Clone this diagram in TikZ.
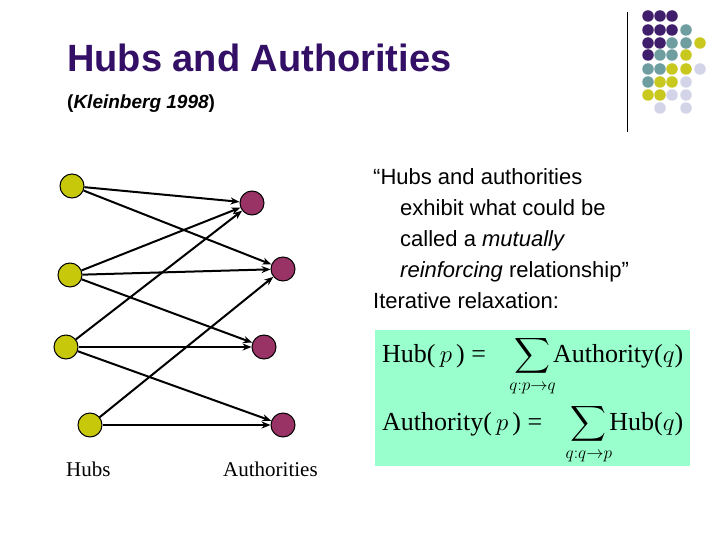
\documentclass[tikz,border=0pt]{standalone}
\usepackage{fontspec}
\setmainfont{Liberation Sans}
\newfontfamily\tms{Liberation Serif}
\usepackage{amsmath}
\usetikzlibrary{arrows.meta}
\definecolor{ttl}{HTML}{330F66}
\definecolor{hubc}{HTML}{C8C80A}
\definecolor{autc}{HTML}{993366}
\definecolor{dP}{HTML}{3F1F6B}
\definecolor{dT}{HTML}{6F9EA0}
\definecolor{dY}{HTML}{C8C81E}
\definecolor{dL}{HTML}{D4D4E8}
\definecolor{boxg}{HTML}{99FFCC}
\begin{document}
\begin{tikzpicture}[x=1pt,y=-1pt,
  hub/.style={circle,draw=black,line width=1pt,fill=hubc,minimum size=24pt,inner sep=0},
  auth/.style={circle,draw=black,line width=1pt,fill=autc,minimum size=24pt,inner sep=0},
  edge/.style={line width=2pt,-{Stealth[length=9pt,width=7pt]}},
  lbl/.style={font=\tms\fontsize{21}{24}\selectfont,anchor=base west,inner sep=0},
  dot/.style={circle,inner sep=0,minimum size=11.5pt}]
\useasboundingbox (0,0) rectangle (720,540);
\fill[white] (0,0) rectangle (720,540);
\node[anchor=base west,inner sep=0,text=ttl,font=\bfseries\fontsize{38}{44}\selectfont] (t) at (67,72) {Hubs and Authorities};
\node[anchor=base west,inner sep=0,font=\bfseries\fontsize{19}{22}\selectfont] (st) at (67,109) {(\textit{Kleinberg 1998})};
\draw[line width=1pt] (627,12) -- (627,132);
\foreach \r/\cs in {16/{648/dP,660/dP,672/dP},
                    30/{648/dP,660/dP,672/dP,686/dT},
                    43/{648/dP,660/dP,672/dT,686/dT,700/dY},
                    55/{648/dP,660/dT,672/dT,686/dY},
                    69/{648/dT,660/dT,672/dY,686/dY,700/dL},
                    82/{648/dT,660/dY,672/dY,686/dL},
                    95/{648/dY,660/dY,672/dL,686/dL},
                    108/{660/dL,686/dL}}{
  \foreach \x/\cl in \cs { \node[dot,fill=\cl] at (\x,\r) {}; }
}
\node[hub] (h1) at (72,186) {};
\node[hub] (h2) at (70,275) {};
\node[hub] (h3) at (66,347) {};
\node[hub] (h4) at (90,425) {};
\node[auth] (a1) at (252,203) {};
\node[auth] (a2) at (283,269) {};
\node[auth] (a3) at (264,347) {};
\node[auth] (a4) at (283,425) {};
\foreach \a/\b in {h1/a1,h1/a2,h2/a1,h2/a2,h2/a3,h3/a1,h3/a3,h3/a4,h4/a2,h4/a4}
  \draw[edge] (\a) -- (\b);
\node[lbl] (lh) at (66,476) {Hubs};
\node[lbl] (la) at (223,476) {Authorities};
\node[anchor=north west,inner sep=0,align=left,font=\fontsize{22}{31}\selectfont] (q) at (373,168)
 {``Hubs and authorities\\\hspace*{27pt}exhibit what could be\\\hspace*{27pt}called a \textit{mutually}\\\hspace*{27pt}\textit{reinforcing} relationship''\\Iterative relaxation:};
\fill[boxg] (375,330) rectangle (690,466);
\node[anchor=base west,inner sep=0,font=\tms\fontsize{26}{28}\selectfont] (f1) at (382,362)
 {Hub($\,p\,$) =\hspace{0.9em}$\displaystyle\sum_{q:p\to q}$\hspace{-0.1em}Authority($q$)};
\node[anchor=base west,inner sep=0,font=\tms\fontsize{26}{28}\selectfont] (f2) at (382,430)
 {Authority($\,p\,$) =\hspace{0.9em}$\displaystyle\sum_{q:q\to p}$\hspace{-0.1em}Hub($q$)};
\end{tikzpicture}
\end{document}
